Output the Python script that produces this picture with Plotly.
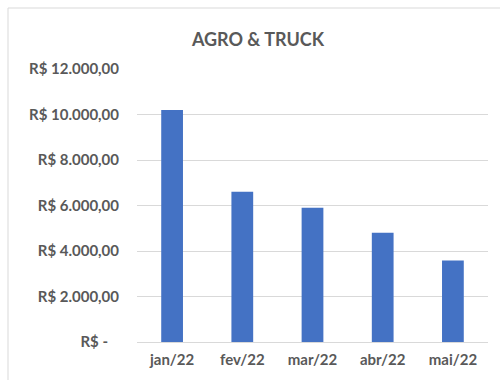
import plotly.graph_objects as go

# Monthly totals for AGRO & TRUCK (R$)
months = ["jan/22", "fev/22", "mar/22", "abr/22", "mai/22"]
values = [10200, 6600, 5900, 4800, 3580]

tick_vals = [0, 2000, 4000, 6000, 8000, 10000, 12000]
# accounting style: the zero dash sits left of the decimal column
tick_text = ["R$ -\u00a0\u00a0\u00a0", "R$ 2.000,00", "R$ 4.000,00", "R$ 6.000,00",
             "R$ 8.000,00", "R$ 10.000,00", "R$ 12.000,00"]

label_font = dict(family="Lato", size=15, color="#595959", weight="bold")

fig = go.Figure(
    go.Bar(x=months, y=values, marker=dict(color="#4472C4", line=dict(width=0)))
)

fig.update_layout(
    width=500,
    height=380,
    margin=dict(l=137, r=12, t=69, b=38),
    paper_bgcolor="white",
    plot_bgcolor="white",
    bargap=0.69,
    showlegend=False,
    title=dict(
        text="AGRO & TRUCK",
        x=0.516, xanchor="center",
        y=1 - 40 / 380, yanchor="middle",
        font=dict(family="Lato", size=18, color="#595959", weight="bold"),
    ),
    shapes=[
        # chart frame
        dict(type="rect", xref="paper", yref="paper",
             x0=(8 - 137) / 351, x1=1.2, y0=-0.3, y1=(342 - 8) / 273,
             line=dict(color="#d9d9d9", width=1), layer="below"),
    ],
)

fig.update_yaxes(
    range=[0, 12000],
    tickvals=tick_vals,
    ticktext=tick_text,
    showgrid=True,
    gridcolor="#d9d9d9",
    gridwidth=1,
    zeroline=False,
    showline=False,
    ticks="outside",
    ticklen=14,
    tickcolor="rgba(0,0,0,0)",
    tickfont=label_font,
)

fig.update_xaxes(
    showgrid=False,
    showline=True,
    linecolor="#d9d9d9",
    linewidth=1,
    ticks="outside",
    ticklen=4,
    tickcolor="rgba(0,0,0,0)",
    tickfont=dict(family="Lato", size=15, color="#595959", weight="bold"),
)

fig.write_html("out.html")
